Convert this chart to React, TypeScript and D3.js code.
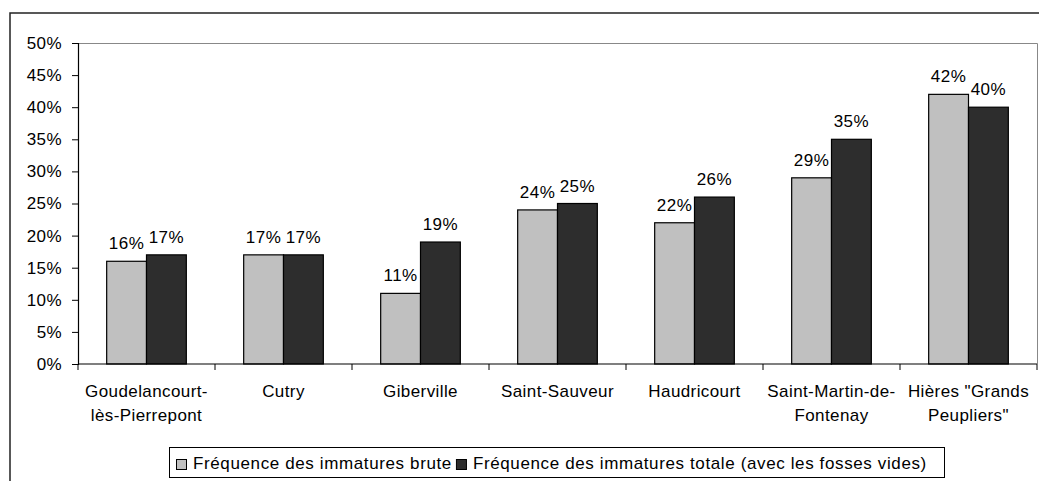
import React, { useEffect, useRef } from 'react';
import * as d3 from 'd3';

const categories = [
  ['Goudelancourt-', 'lès-Pierrepont'],
  ['Cutry'],
  ['Giberville'],
  ['Saint-Sauveur'],
  ['Haudricourt'],
  ['Saint-Martin-de-', 'Fontenay'],
  ['Hières "Grands', 'Peupliers"'],
];
const brute = [16, 17, 11, 24, 22, 29, 42];
const totale = [17, 17, 19, 25, 26, 35, 40];
const yTicks = [0, 5, 10, 15, 20, 25, 30, 35, 40, 45, 50];
const seriesNames = [
  'Fréquence des immatures brute',
  'Fréquence des immatures totale (avec les fosses vides)',
];
const colors = ['#c0c0c0', '#2d2d2d'];

const App = () => {
  const svgRef = useRef<SVGSVGElement>(null);

  useEffect(() => {
    const W = 1039, H = 481;
    const left = 78, right = 1037, top = 43, bottom = 364;
    const font = 'Arial, "Liberation Sans", sans-serif';

    const svg = d3.select(svgRef.current).attr('width', W).attr('height', H);
    svg.selectAll('*').remove();
    svg.append('rect').attr('width', W).attr('height', H).attr('fill', '#fff');

    // outer frame (continues past the picture on right and bottom)
    svg.append('rect')
      .attr('x', 10).attr('y', 13).attr('width', W + 10).attr('height', H + 10)
      .attr('fill', 'none').attr('stroke', '#222').attr('stroke-width', 1.5);

    const x = d3.scaleBand<number>().domain(d3.range(categories.length)).range([left, right]);
    const y = d3.scaleLinear().domain([0, 50]).range([bottom, top]);
    const inner = d3.scaleBand<number>().domain([0, 1]).range([0, x.bandwidth()]).paddingOuter(0.72).paddingInner(0);

    // plot area border
    svg.append('path')
      .attr('d', `M${left},${top + 0.5}H${right + 0.5}V${bottom}`)
      .attr('fill', 'none').attr('stroke', '#888').attr('stroke-width', 1);

    const series = [brute, totale];
    series.forEach((vals, s) => {
      const g = svg.append('g');
      g.selectAll('rect').data(vals).join('rect')
        .attr('x', (d, i) => x(i)! + inner(s)!)
        .attr('y', (d) => y(d))
        .attr('width', inner.bandwidth())
        .attr('height', (d) => y(0) - y(d))
        .attr('fill', colors[s]).attr('stroke', '#000').attr('stroke-width', 1.2);
      g.selectAll('text').data(vals).join('text')
        .attr('x', (d, i) => x(i)! + inner(s)! + inner.bandwidth() / 2)
        .attr('y', (d) => y(d) - 12)
        .attr('text-anchor', 'middle')
        .attr('font-family', font).attr('font-size', 17).attr('letter-spacing', 0.5).attr('fill', '#000')
        .text((d) => `${d}%`);
    });

    // y axis
    const yAxis = svg.append('g').attr('transform', `translate(${left},0)`)
      .call(d3.axisLeft(y).tickValues(yTicks).tickSize(6).tickPadding(10).tickFormat((d) => `${d}%`));
    yAxis.select('.domain').attr('stroke', '#000').attr('stroke-width', 1.2);
    yAxis.selectAll('line').attr('stroke', '#000');
    yAxis.selectAll('text').attr('font-family', font).attr('font-size', 17).attr('letter-spacing', 0.4).attr('fill', '#000');

    // x axis
    const xAxisG = svg.append('g').attr('transform', `translate(0,${bottom})`);
    xAxisG.append('line').attr('x1', left).attr('x2', right).attr('stroke', '#000').attr('stroke-width', 1.2);
    const edges = d3.range(categories.length + 1).map((i) => left + i * x.step());
    xAxisG.selectAll('line.tick').data(edges).join('line').attr('class', 'tick')
      .attr('x1', (d) => d).attr('x2', (d) => d).attr('y1', 0).attr('y2', 6).attr('stroke', '#000');
    categories.forEach((lines, i) => {
      const t = xAxisG.append('text')
        .attr('text-anchor', 'middle')
        .attr('font-family', font).attr('font-size', 17).attr('letter-spacing', 0.4).attr('fill', '#000');
      lines.forEach((ln, k) => {
        t.append('tspan').attr('x', x(i)! + x.bandwidth() / 2).attr('y', 33 + k * 24).text(ln);
      });
    });

    // legend
    const lg = svg.append('g');
    lg.append('rect').attr('x', 169.5).attr('y', 447.5).attr('width', 775).attr('height', 30)
      .attr('fill', '#fff').attr('stroke', '#000').attr('stroke-width', 1);
    let lx = 176;
    seriesNames.forEach((name, s) => {
      lg.append('rect').attr('x', lx + 0.5).attr('y', 459.5).attr('width', 10).attr('height', 10)
        .attr('fill', colors[s]).attr('stroke', '#000').attr('stroke-width', 1);
      const t = lg.append('text').attr('x', lx + 17).attr('y', 469)
        .attr('font-family', font).attr('font-size', 17).attr('letter-spacing', 0.62).attr('fill', '#000').text(name);
      const w = (t.node() as SVGTextElement).getComputedTextLength();
      lx += 17 + w + 4;
    });
  }, []);

  return <svg ref={svgRef} style={{ position: 'absolute', left: 0, top: 0, display: 'block' }}></svg>;
};

export default App;
